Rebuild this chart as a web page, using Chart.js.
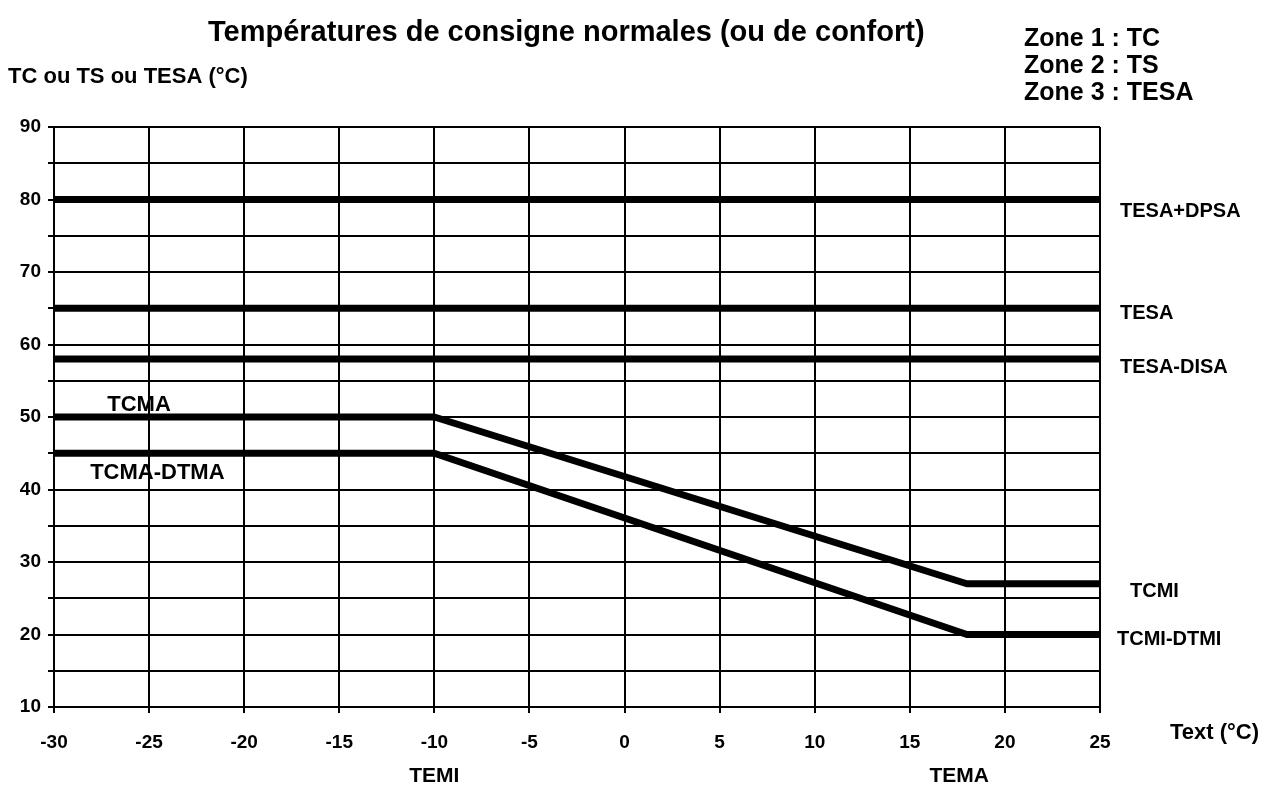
<!DOCTYPE html>
<html lang="fr">
<head>
<meta charset="utf-8">
<title>Températures de consigne normales (ou de confort)</title>
<script src="https://cdn.jsdelivr.net/npm/chart.js@4/dist/chart.umd.min.js"></script>
<style>
  html, body { margin: 0; padding: 0; background: #fff; }
  #wrap { width: 1266px; height: 786px; position: relative; }
</style>
</head>
<body>
<div id="wrap"><canvas id="c" width="1266" height="786"></canvas></div>
<script>
// Outside temperature breakpoints (°C)
const flatX = [-30, 25];                 // full-width constant setpoints
const curveX = [-30, -10, 18, 25];       // heating curve: TEMI = -10, TEMA = 18

// Setpoint values (°C)
const tesaDpsa = [80, 80];
const tesa = [65, 65];
const tesaDisa = [58, 58];
const tcma = [50, 50, 27, 27];
const tcmaDtma = [45, 45, 20, 20];

// Axis ranges and tick step
const xRange = [-30, 25];
const yRange = [10, 90];
const gridStep = 5;
const yLabelStep = 10;

// Line labels, attached to the value they name
const rightLabels = [
  { text: 'TESA+DPSA', value: tesaDpsa[1], dx: 20, dy: 12 },
  { text: 'TESA', value: tesa[1], dx: 20, dy: 5 },
  { text: 'TESA-DISA', value: tesaDisa[1], dx: 20, dy: 8 },
  { text: 'TCMI', value: tcma[3], dx: 30, dy: 8 },
  { text: 'TCMI-DTMI', value: tcmaDtma[3], dx: 17, dy: 5 }
];
const leftLabels = [
  { text: 'TCMA', x: -27.2, value: tcma[0], dy: -12 },
  { text: 'TCMA-DTMA', x: -28.1, value: tcmaDtma[0], dy: 20 }
];
const bottomLabels = [
  { text: 'TEMI', x: curveX[1] },
  { text: 'TEMA', x: curveX[2] - 0.4 }
];
const zoneLines = ['Zone 1 : TC', 'Zone 2 : TS', 'Zone 3 : TESA'];

const FONT = '"Liberation Sans", Arial, sans-serif';

function pts(xs, ys) { return xs.map((x, i) => ({ x: x, y: ys[i] })); }

const lineStyle = {
  borderColor: '#000',
  borderWidth: 7,
  pointRadius: 0,
  fill: false,
  tension: 0,
  borderCapStyle: 'butt',
  borderJoinStyle: 'round'
};

const annotations = {
  id: 'annotations',
  afterDraw(chart) {
    const ctx = chart.ctx;
    const xs = chart.scales.x, ys = chart.scales.y;
    const area = chart.chartArea;
    ctx.save();
    ctx.fillStyle = '#000';
    ctx.textBaseline = 'middle';

    // Title
    ctx.font = 'bold 29px ' + FONT;
    ctx.textAlign = 'left';
    ctx.fillText('Températures de consigne normales (ou de confort)', 208, 33);

    // Zone legend
    ctx.font = 'bold 25px ' + FONT;
    zoneLines.forEach((t, i) => ctx.fillText(t, 1024, 39 + i * 27));

    // Axis titles
    ctx.font = 'bold 22px ' + FONT;
    ctx.fillText('TC ou TS ou TESA (°C)', 8, 77);
    ctx.fillText('Text (°C)', 1170, 733);

    // Labels on the right of the constant lines
    ctx.font = 'bold 20px ' + FONT;
    rightLabels.forEach(l => {
      ctx.fillText(l.text, area.right + l.dx, ys.getPixelForValue(l.value) + l.dy);
    });

    // Labels on the left part of the heating curve
    ctx.font = 'bold 22px ' + FONT;
    leftLabels.forEach(l => {
      ctx.fillText(l.text, xs.getPixelForValue(l.x), ys.getPixelForValue(l.value) + l.dy);
    });

    // Breakpoint names under the x axis
    ctx.font = 'bold 21px ' + FONT;
    ctx.textAlign = 'center';
    bottomLabels.forEach(l => {
      ctx.fillText(l.text, xs.getPixelForValue(l.x), 776);
    });
    ctx.restore();
  }
};

new Chart(document.getElementById('c'), {
  type: 'line',
  data: {
    datasets: [
      Object.assign({ label: 'TESA+DPSA', data: pts(flatX, tesaDpsa) }, lineStyle),
      Object.assign({ label: 'TESA', data: pts(flatX, tesa) }, lineStyle),
      Object.assign({ label: 'TESA-DISA', data: pts(flatX, tesaDisa) }, lineStyle),
      Object.assign({ label: 'TCMA', data: pts(curveX, tcma) }, lineStyle),
      Object.assign({ label: 'TCMA-DTMA', data: pts(curveX, tcmaDtma) }, lineStyle)
    ]
  },
  options: {
    responsive: false,
    animation: false,
    events: [],
    layout: { padding: { top: 127, right: 166, left: 0, bottom: 0 } },
    plugins: { legend: { display: false }, tooltip: { enabled: false }, title: { display: false } },
    scales: {
      x: {
        type: 'linear',
        min: xRange[0],
        max: xRange[1],
        afterFit(s) { s.height = 79; },
        border: { color: '#000', width: 2 },
        grid: { color: '#000', lineWidth: 2, tickLength: 6, tickColor: '#000', drawTicks: true },
        ticks: {
          stepSize: gridStep,
          color: '#000',
          padding: 18,
          maxRotation: 0,
          font: { family: FONT, size: 19, weight: 'bold' },
          callback: v => String(v)
        }
      },
      y: {
        type: 'linear',
        min: yRange[0],
        max: yRange[1],
        afterFit(s) { s.width = 54; },
        border: { color: '#000', width: 2 },
        grid: { color: '#000', lineWidth: 2, tickLength: 6, tickColor: '#000', drawTicks: true },
        ticks: {
          stepSize: gridStep,
          color: '#000',
          padding: 7,
          font: { family: FONT, size: 19, weight: 'bold' },
          callback: v => (v % yLabelStep === 0 ? String(v) : '')
        }
      }
    }
  },
  plugins: [annotations]
});
</script>
</body>
</html>
